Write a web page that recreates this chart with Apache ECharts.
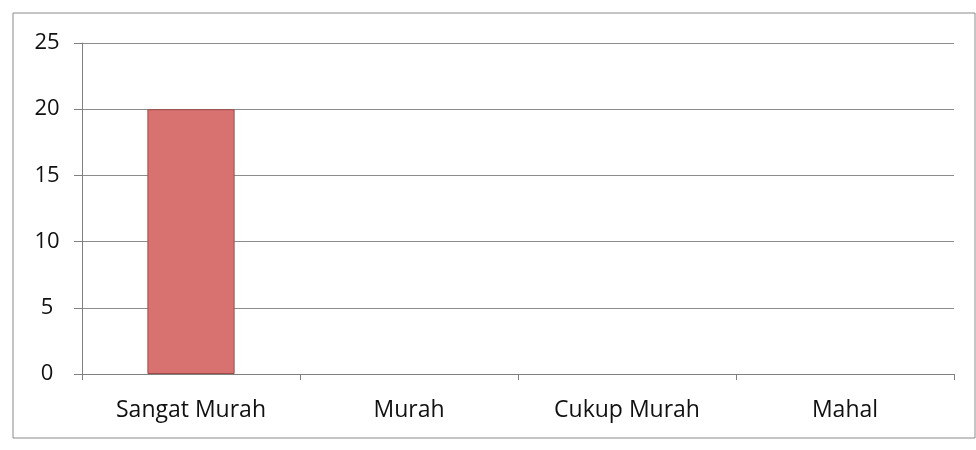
<!DOCTYPE html>
<html>
<head>
<meta charset="utf-8">
<script src="https://cdn.jsdelivr.net/npm/echarts@6/dist/echarts.min.js"></script>
<style>
  html, body { margin: 0; padding: 0; background: #fff; }
  #chart { width: 976px; height: 450px; }
</style>
</head>
<body>
<div id="chart"></div>
<script>
const categories = ["Sangat Murah", "Murah", "Cukup Murah", "Mahal"];
const values = [20, 0, 0, 0];
const yTicks = [0, 5, 10, 15, 20, 25];

const chart = echarts.init(document.getElementById("chart"));

// zero-height bars should not leave a border line on the axis
const barData = values.map(v => v === 0 ? { value: v, itemStyle: { borderWidth: 0 } } : v);

const option = {
  backgroundColor: "#ffffff",
  textStyle: { fontFamily: "Open Sans" },
  graphic: [
    {
      type: "rect",
      shape: { x: 13, y: 13, width: 962, height: 425 },
      style: { fill: "none", stroke: "#8a8a8a", lineWidth: 1 },
      silent: true
    }
  ],
  grid: {
    left: 82,
    right: 22,
    top: 43,
    bottom: 76
  },
  xAxis: {
    type: "category",
    data: categories,
    axisLine: { show: true, lineStyle: { color: "#808080", width: 1 } },
    axisTick: { show: true, length: 6, lineStyle: { color: "#808080" } },
    axisLabel: { color: "#111", fontSize: 23, margin: 25 }
  },
  yAxis: {
    type: "value",
    min: yTicks[0],
    max: yTicks[yTicks.length - 1],
    interval: 5,
    axisLine: { show: true, lineStyle: { color: "#808080", width: 1 } },
    axisTick: { show: true, length: 8, lineStyle: { color: "#808080" } },
    axisLabel: { color: "#111", fontSize: 22, margin: 35, align: "center" },
    splitLine: { lineStyle: { color: "#8c8c8c", width: 1 } }
  },
  series: [
    {
      type: "bar",
      data: barData,
      barWidth: "40%",
      itemStyle: {
        color: "#d87270",
        borderColor: "#9c4a48",
        borderWidth: 1
      },
      silent: true
    }
  ]
};

chart.setOption(option);
</script>
</body>
</html>
